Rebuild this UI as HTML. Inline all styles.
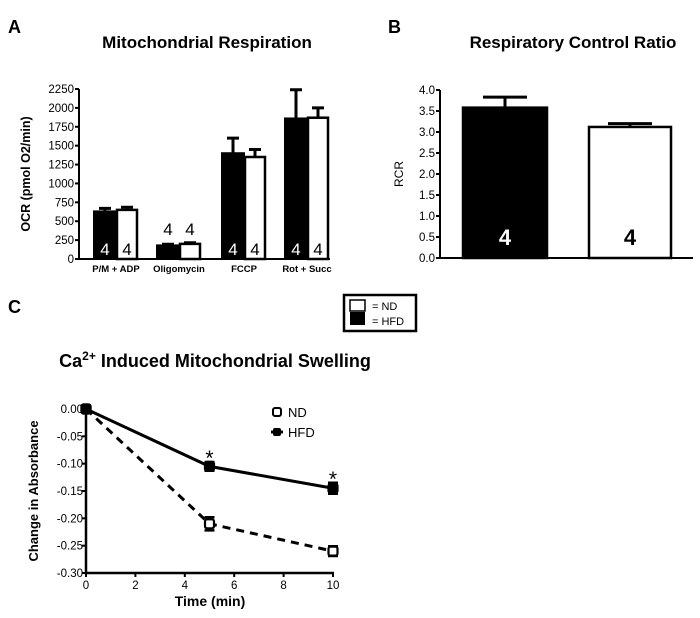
<!DOCTYPE html>
<html><head><meta charset="utf-8"><style>
body{margin:0;background:#fff;}
svg{display:block;font-family:"Liberation Sans",Arial,sans-serif;}
</style></head><body>
<svg id="fig" width="700" height="618" viewBox="0 0 700 618">
<text x="8" y="33" font-size="18" font-weight="bold">A</text>
<text x="207" y="48" font-size="17" font-weight="bold" text-anchor="middle">Mitochondrial Respiration</text>
<text x="388" y="33" font-size="18" font-weight="bold">B</text>
<text x="573" y="48" font-size="17" font-weight="bold" text-anchor="middle">Respiratory Control Ratio</text>
<text x="8" y="313" font-size="18" font-weight="bold">C</text>
<g>
<rect x="344" y="295" width="72" height="36" fill="#fff" stroke="#000" stroke-width="2.5"/>
<rect x="350" y="300" width="15" height="11" fill="#fff" stroke="#000" stroke-width="1.5"/>
<rect x="350" y="312" width="15" height="13" fill="#000"/>
<text x="372" y="310" font-size="11">= ND</text>
<text x="372" y="325" font-size="11">= HFD</text>
</g>
<text x="215" y="367" font-size="18" font-weight="bold" text-anchor="middle">Ca<tspan font-size="12" dy="-7">2+</tspan><tspan dy="7"> Induced Mitochondrial Swelling</tspan></text>
<g id="ga"></g>
<g id="gb"></g>
<g id="gc"></g>
</svg>
<script>
// Panel A data
const aCategories=["P/M + ADP","Oligomycin","FCCP","Rot + Succ"];
const aHFD=[630,180,1400,1860];
const aHFDErr=[40,15,200,380];
const aND=[650,200,1350,1870];
const aNDErr=[35,15,100,130];
const aTicks=[0,250,500,750,1000,1250,1500,1750,2000,2250];
// Panel B data
const bGroups=["HFD","ND"];
const bValues=[3.58,3.12];
const bErr=[0.25,0.08];
const bTicks=[0,0.5,1,1.5,2,2.5,3,3.5,4];
// Panel C data
const cTimes=[0,5,10];
const cND=[0,-0.21,-0.26];
const cNDErr=[0.003,0.012,0.009];
const cHFD=[0,-0.105,-0.145];
const cHFDErr=[0.003,0.008,0.01];
const cYTicks=[0,-0.05,-0.1,-0.15,-0.2,-0.25,-0.3];
const cXTicks=[0,2,4,6,8,10];

const NS="http://www.w3.org/2000/svg";
function mk(p,tag,at,txt){const e=document.createElementNS(NS,tag);for(const k in at)e.setAttribute(k,at[k]);if(txt!==undefined)e.textContent=txt;p.appendChild(e);return e;}

// Panel A
(function(){
const g=document.getElementById('ga');
const y=v=>259-v*(170/2250);
const x0=79,groupStart=[93,156,221,284],bw=22;
aCategories.forEach((c,i)=>{
  const bx=groupStart[i];
  let r=mk(g,'rect',{x:bx+1,y:y(aHFD[i]),width:bw,height:259-y(aHFD[i]),fill:'#000',stroke:'#000','stroke-width':2});
  
  
  let l=mk(g,'path',{d:`M${bx+12} ${y(aHFD[i])} V${y(aHFD[i]+aHFDErr[i])} M${bx+6} ${y(aHFD[i]+aHFDErr[i])} H${bx+18}`,stroke:'#000','stroke-width':3});
  
  
  const wx=bx+bw+1;
  r=mk(g,'rect',{x:wx+1,y:y(aND[i]),width:bw-2,height:259-y(aND[i]),fill:'#fff',stroke:'#000','stroke-width':2.5});
  
  
  l=mk(g,'path',{d:`M${wx+11} ${y(aND[i])} V${y(aND[i]+aNDErr[i])} M${wx+5} ${y(aND[i]+aNDErr[i])} H${wx+17}`,stroke:'#000','stroke-width':3});
  
  
  const ny=i==1?235:255;
  let t=mk(g,'text',{x:bx+12,y:ny,'font-size':17,'text-anchor':'middle',fill:i==1?'#000':'#fff'},'4');
  
  
  t=mk(g,'text',{x:wx+11,y:ny,'font-size':17,'text-anchor':'middle',fill:'#000'},'4');
  
  
  t=mk(g,'text',{x:bx+23,y:272,'font-size':9.5,'font-weight':'bold','text-anchor':'middle'},c);
  
  
});
mk(g,'path',{d:`M${x0} 89 V259 H330`,stroke:'#000','stroke-width':2,fill:'none'});
aTicks.forEach(v=>{
  mk(g,'line',{x1:x0-4,x2:x0,y1:y(v),y2:y(v),stroke:'#000','stroke-width':2});
  const t=mk(g,'text',{x:x0-5,y:y(v)+4,'font-size':11.5,'text-anchor':'end'},String(v));
  
  
});
const t=mk(g,'text',{transform:'translate(30 174) rotate(-90)','font-size':12.5,'font-weight':'bold','text-anchor':'middle'},'OCR (pmol O2/min)');


})();

// Panel B
(function(){
const g=document.getElementById('gb');
const y=v=>258-v*42;
const x0=440,bx=[463,589],bw=[84,82];
bGroups.forEach((gname,i)=>{
  const black=i==0;
  const r=mk(g,'rect',{x:bx[i],y:y(bValues[i]),width:bw[i],height:258-y(bValues[i]),fill:black?'#000':'#fff',stroke:'#000','stroke-width':2.5});
  
  
  const cx=bx[i]+bw[i]/2, ye=y(bValues[i]+bErr[i]);
  const l=mk(g,'path',{d:`M${cx} ${y(bValues[i])} V${ye} M${cx-22} ${ye} H${cx+22}`,stroke:'#000','stroke-width':3});
  
  
  const t=mk(g,'text',{x:cx,y:245,'font-size':22,'font-weight':'bold','text-anchor':'middle',fill:black?'#fff':'#000'},'4');
  
  
});
mk(g,'path',{d:`M${x0} 90 V258 H693`,stroke:'#000','stroke-width':2,fill:'none'});
bTicks.forEach(v=>{
  mk(g,'line',{x1:x0-4,x2:x0,y1:y(v),y2:y(v),stroke:'#000','stroke-width':2});
  const t=mk(g,'text',{x:x0-5,y:y(v)+4,'font-size':11.5,'text-anchor':'end'},v.toFixed(1));
  
  
});
const t=mk(g,'text',{transform:'translate(403 174) rotate(-90)','font-size':12,'text-anchor':'middle'},'RCR');


})();

// Panel C
(function(){
const g=document.getElementById('gc');
const x=v=>86+v*24.7;
const y=v=>409-v*(164/0.3);
const x0=86;
mk(g,'path',{d:`M${x0} 409 V573 H334`,stroke:'#000','stroke-width':2.5,fill:'none'});
cYTicks.forEach(v=>{
  mk(g,'line',{x1:x0-4,x2:x0,y1:y(v),y2:y(v),stroke:'#000','stroke-width':2});
  const t=mk(g,'text',{x:x0-3,y:y(v)+4,'font-size':11.5,'text-anchor':'end'},v.toFixed(2));
  
  
});
cXTicks.forEach(v=>{
  mk(g,'line',{x1:x(v),x2:x(v),y1:573,y2:577,stroke:'#000','stroke-width':2});
  const t=mk(g,'text',{x:x(v),y:589,'font-size':11.5,'text-anchor':'middle'},String(v));
  
  
});
const series=[[cND,cNDErr,'nd','8 6','#fff'],[cHFD,cHFDErr,'hfd','','#000']];
series.forEach(([vals,errs,nm,dash,fill])=>{
  const p=mk(g,'polyline',{points:cTimes.map((t,i)=>x(t)+','+y(vals[i])).join(' '),fill:'none',stroke:'#000','stroke-width':3,'stroke-dasharray':dash});
  
  
  cTimes.forEach((t,i)=>{
    const cx=x(t),cy=y(vals[i]),e1=y(vals[i]+errs[i]),e2=y(vals[i]-errs[i]);
    const eb=mk(g,'path',{d:`M${cx} ${e1} V${e2} M${cx-5} ${e1} H${cx+5} M${cx-5} ${e2} H${cx+5}`,stroke:'#000','stroke-width':2.5});
    
    
    const m=mk(g,'rect',{x:cx-4.5,y:cy-4.5,width:9,height:9,rx:2,fill:fill,stroke:'#000','stroke-width':2.2});
    
    
  });
});
[5,10].forEach((t,i)=>{
  const s=mk(g,'text',{x:x(t),y:y(cHFD[i+1]+cHFDErr[i+1])+3,'font-size':21,'text-anchor':'middle'},'*');
  
  
});
let lg=mk(g,'g',{});


mk(lg,'rect',{x:273,y:408,width:8,height:8,rx:2,fill:'#fff',stroke:'#000','stroke-width':2});
mk(lg,'text',{x:288,y:417,'font-size':13},'ND');
mk(lg,'line',{x1:271,x2:283,y1:432,y2:432,stroke:'#000','stroke-width':3});
mk(lg,'rect',{x:273,y:428,width:8,height:8,rx:2,fill:'#000'});
mk(lg,'text',{x:288,y:437,'font-size':13},'HFD');
let t=mk(g,'text',{transform:'translate(38 491) rotate(-90)','font-size':13,'font-weight':'bold','text-anchor':'middle'},'Change in Absorbance');


t=mk(g,'text',{x:210,y:606,'font-size':14,'font-weight':'bold','text-anchor':'middle'},'Time (min)');


})();
</script>
</body></html>
